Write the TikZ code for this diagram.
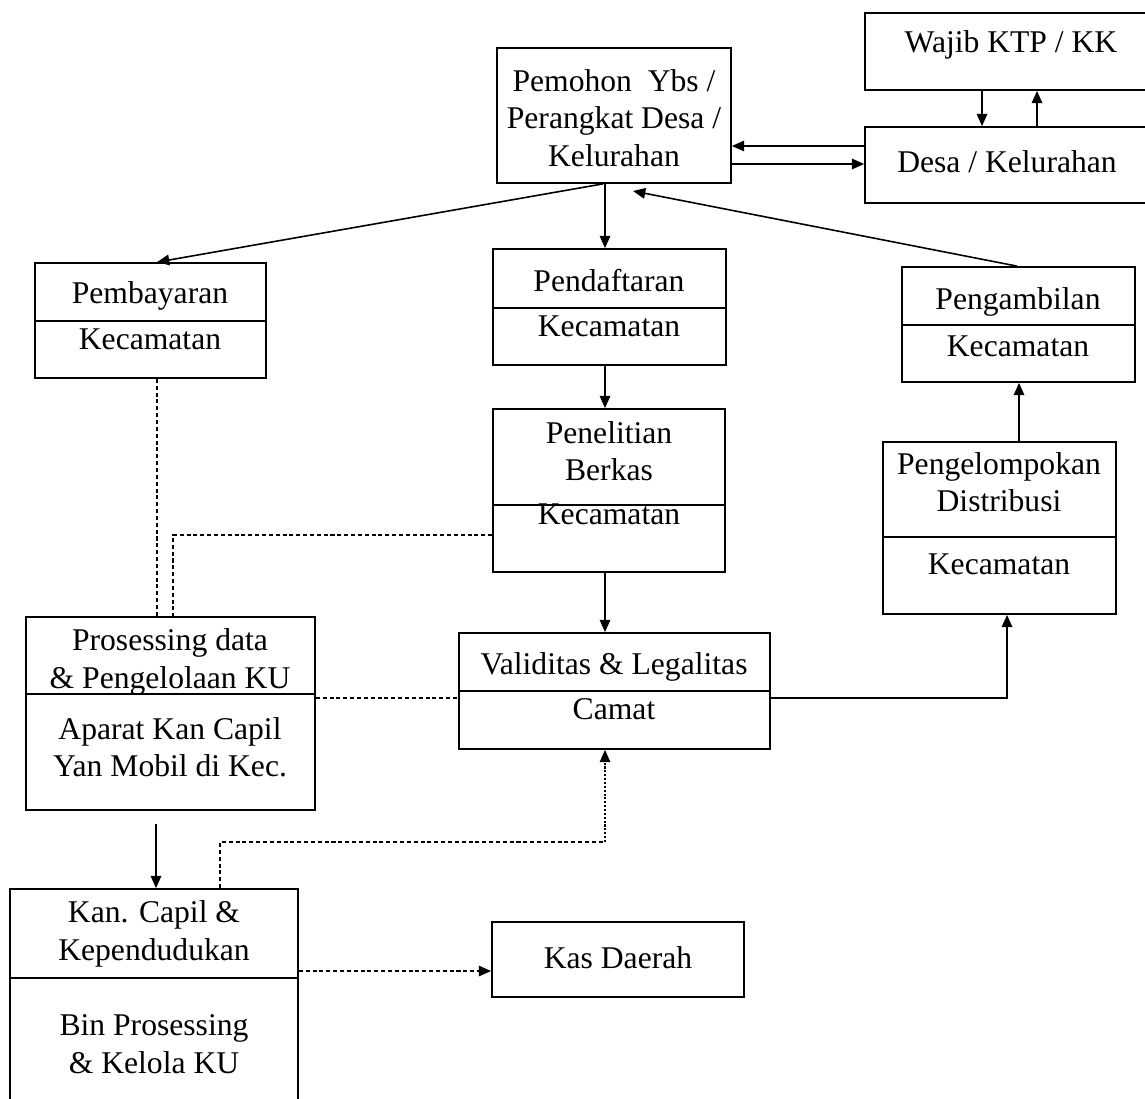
\documentclass[tikz,border=0pt]{standalone}
\usepackage{fontspec}
\setmainfont{Liberation Serif}
\usetikzlibrary{arrows.meta,fit}
\begin{document}
\begin{tikzpicture}[x=0.02cm,y=-0.02cm,
  box/.style={draw,line width=1pt,inner sep=0pt,fit={#1}},
  lbl/.style={align=center,inner sep=0pt,font=\fontsize{18}{21.3}\selectfont},
  one/.style={lbl,text height=15pt,text depth=4pt},
  rule/.style={line width=1pt},
  flow/.style={line width=0.9pt,-{Triangle[length=7pt,width=6pt]}},
  link/.style={line width=0.7pt,dash pattern=on 2.3pt off 1.6pt},
  dlink/.style={link,-{Triangle[length=7pt,width=6pt]}},
  dotlink/.style={line width=0.7pt,dash pattern=on 1.2pt off 1pt,-{Triangle[length=7pt,width=6pt]}}]

\useasboundingbox (0,0) rectangle (1145,1098);
\clip (0,0) rectangle (1145,1098);

% boxes
\node[box={(865,13)(1165,90)}] (wajib) {};
\node[box={(865,127)(1165,203)}] (desa) {};
\node[box={(497,48)(731,183)}] (pem) {};
\node[box={(35,263)(266,378)}] (pemb) {};
\node[box={(493,249)(726,365)}] (pend) {};
\node[box={(902,267)(1135,382)}] (ambil) {};
\node[box={(493,409)(725,572)}] (teliti) {};
\node[box={(883,442)(1116,614)}] (grup) {};
\node[box={(26,617)(315,810)}] (proses) {};
\node[box={(459,633)(770,749)}] (valid) {};
\node[box={(10,889)(298,1130)}] (capil) {};
\node[box={(492,922)(744,997)}] (kas) {};

% dividers between the two parts of a box
\draw[rule] (pemb.west |- 0,321) -- (pemb.east |- 0,321);
\draw[rule] (pend.west |- 0,308) -- (pend.east |- 0,308);
\draw[rule] (ambil.west |- 0,325) -- (ambil.east |- 0,325);
\draw[rule] (teliti.west |- 0,505) -- (teliti.east |- 0,505);
\draw[rule] (grup.west |- 0,537) -- (grup.east |- 0,537);
\draw[rule] (proses.west |- 0,694) -- (proses.east |- 0,694);
\draw[rule] (valid.west |- 0,691) -- (valid.east |- 0,691);
\draw[rule] (capil.west |- 0,978) -- (capil.east |- 0,978);

% texts
\node[one] (wajibT) at (1011,43) {Wajib KTP / KK};
\node[one] (desaT) at (1007,163) {Desa / Kelurahan};
\node[lbl] (pemT) at (614,118) {Pemohon\ \ Ybs /\\Perangkat Desa /\\Kelurahan};
\node[one] (pembA) at (150,294) {Pembayaran};
\node[one] (pembB) at (150,340) {Kecamatan};
\node[one] (pendA) at (609,282) {Pendaftaran};
\node[one] (pendB) at (609,327) {Kecamatan};
\node[one] (ambilA) at (1018,300) {Pengambilan};
\node[one] (ambilB) at (1018,347) {Kecamatan};
\node[lbl] (telitiA) at (609,451) {Penelitian\\Berkas};
\node[one] (telitiB) at (609,515) {Kecamatan};
\node[lbl] (grupA) at (999,482) {Pengelompokan\\Distribusi};
\node[one] (grupB) at (999,565) {Kecamatan};
\node[lbl] (prosesA) at (170,662) {Prosessing data\\\& Pengelolaan KU};
\node[lbl] (prosesB) at (170,747) {Aparat Kan Capil\\Yan Mobil di Kec.};
\node[one] (validA) at (614,665) {Validitas \& Legalitas};
\node[one] (validB) at (614,710) {Camat};
\node[lbl] (capilA) at (154,934) {Kan. Capil \&\\Kependudukan};
\node[lbl] (capilB) at (154,1044) {Bin Prosessing\\\& Kelola KU};
\node[one] (kasT) at (618,959) {Kas Daerah};

% solid flows
\draw[flow] (desa.west |- 0,146) -- (pem.east |- 0,146);
\draw[flow] (pem.east |- 0,164) -- (desa.west |- 0,164);
\draw[flow] (wajib.south -| 982,0) -- (desa.north -| 982,0);
\draw[flow] (desa.north -| 1037,0) -- (wajib.south -| 1037,0);
\draw[flow] (pem.south -| 603,0) -- (pemb.north -| 157,0);
\draw[flow] (pem.south -| 605,0) -- (pend.north -| 605,0);
\coordinate (back) at (633,191);
\draw[flow] (ambil.north -| 1017,0) -- (back);
\draw[flow] (pend.south -| 605,0) -- (teliti.north -| 605,0);
\draw[flow] (teliti.south -| 605,0) -- (valid.north -| 605,0);
\draw[flow] (grup.north -| 1019,0) -- (ambil.south -| 1019,0);
\draw[flow] (valid.east |- 0,698) -| (grup.south -| 1007,0);
\coordinate (down) at (156,824);
\draw[flow] (down) -- (capil.north -| 156,0);

% dashed links
\draw[link] (proses.east |- 0,698) -- (valid.west |- 0,698);
\draw[link] (pemb.south -| 157,0) -- (proses.north -| 157,0);
\draw[link] (teliti.west |- 0,535) -| (proses.north -| 173,0);
\coordinate (turn) at (605,842);
\draw[link] (capil.north -| 220,0) |- (turn);
\draw[dotlink] (turn) -- (valid.south -| turn);
\draw[dlink] (capil.east |- 0,971) -- (kas.west |- 0,971);
\end{tikzpicture}
\end{document}
